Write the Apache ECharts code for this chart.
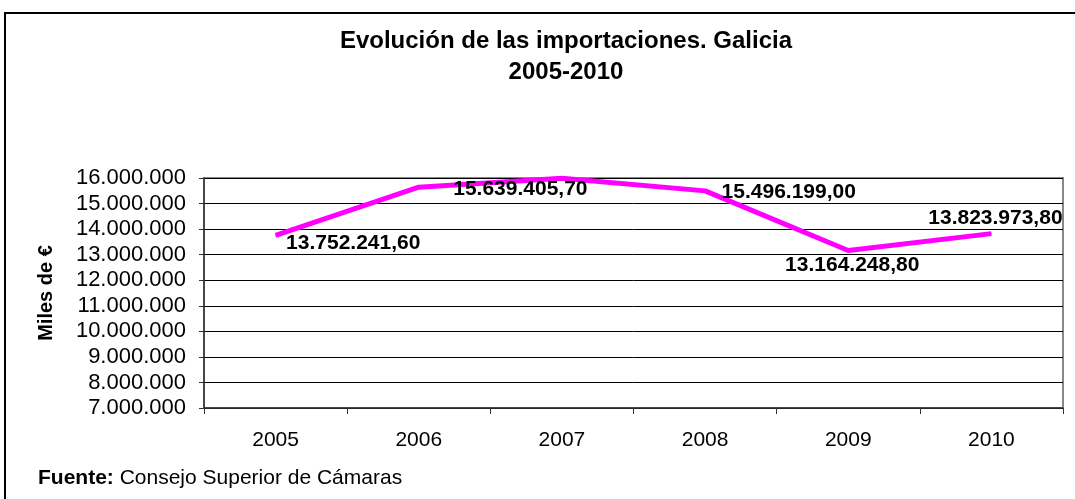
<!DOCTYPE html>
<html>
<head>
<meta charset="utf-8">
<script src="https://cdn.jsdelivr.net/npm/echarts@6/dist/echarts.min.js"></script>
<style>
  html, body { margin: 0; padding: 0; background: #fff; }
  #main { width: 1075px; height: 499px; }
</style>
</head>
<body>
<div id="main"></div>
<script>
// datos
var years = ['2005', '2006', '2007', '2008', '2009', '2010'];
var imports = [13752241.60, 15639405.70, 15990000.00, 15496199.00, 13164248.80, 13823973.80];
// colocación de etiquetas por punto (la de 2007 no aparece)
var labelPos = ['right', 'right', null, 'right', 'bottom', 'top'];

function fmtMiles(v) {
  return String(Math.round(v)).replace(/\B(?=(\d{3})+(?!\d))/g, '.');
}
function fmtDato(v) {
  var p = v.toFixed(2).split('.');
  return fmtMiles(Number(p[0])) + ',' + p[1];
}

var labelCfg = [
  { distance: 10, offset: [0, 8] },
  { distance: 34, offset: [0, 2] },
  { show: false },
  { distance: 16, offset: [0, 1] },
  { distance: 2, offset: [4, 2] },
  { distance: 4, offset: [4, 0] }
];

var seriesData = imports.map(function (v, i) {
  var l = labelCfg[i];
  return {
    value: v,
    label: l.show === false ? { show: false } : {
      show: true,
      position: labelPos[i],
      distance: l.distance,
      offset: l.offset
    }
  };
});

var myChart = echarts.init(document.getElementById('main'));
var option = {
  backgroundColor: '#fff',
  animation: false,
  textStyle: { fontFamily: 'Liberation Sans, Arial, sans-serif' },
  title: {
    text: 'Evolución de las importaciones. Galicia\n2005-2010',
    left: 561,
    textAlign: 'center',
    top: 21,
    textStyle: { fontSize: 24, fontWeight: 'bold', color: '#000', lineHeight: 31 }
  },
  graphic: [
    {
      type: 'rect',
      shape: { x: 5, y: 13, width: 1085, height: 500 },
      style: { fill: 'none', stroke: '#000', lineWidth: 2 },
      silent: true
    },
    {
      type: 'text',
      left: 38,
      top: 468,
      style: {
        rich: {
          b: { fontWeight: 'bold', fontSize: 21, fill: '#000', fontFamily: 'Liberation Sans, Arial' },
          n: { fontSize: 21, fill: '#000', fontFamily: 'Liberation Sans, Arial' }
        },
        text: '{b|Fuente:}{n| Consejo Superior de Cámaras}'
      }
    }
  ],
  grid: {
    left: 204, right: 12, top: 178, bottom: 91,
    show: true, borderColor: '#888', borderWidth: 2
  },
  xAxis: {
    type: 'category',
    data: years,
    boundaryGap: true,
    axisLine: { lineStyle: { color: '#333', width: 1.5 } },
    axisTick: { show: true, length: 6, inside: false, lineStyle: { color: '#333' } },
    axisLabel: { color: '#000', fontSize: 21, margin: 22 }
  },
  yAxis: {
    type: 'value',
    min: 7000000,
    max: 16000000,
    interval: 1000000,
    name: 'Miles de €',
    nameLocation: 'middle',
    nameGap: 148,
    nameRotate: 90,
    nameTextStyle: { fontSize: 20, fontWeight: 'bold', color: '#000' },
    axisLine: { show: true, lineStyle: { color: '#333', width: 1.5 } },
    axisTick: { show: true, length: 5, lineStyle: { color: '#333' } },
    splitLine: { lineStyle: { color: '#000', width: 1 } },
    axisLabel: { color: '#000', fontSize: 22, margin: 18, formatter: fmtMiles }
  },
  series: [{
    type: 'line',
    data: seriesData,
    symbol: 'circle',
    symbolSize: 1,
    showSymbol: true,
    itemStyle: { color: '#FF00FF' },
    lineStyle: { color: '#FF00FF', width: 5 },
    label: {
      color: '#000',
      fontSize: 21,
      fontWeight: 'bold',
      formatter: function (p) { return fmtDato(p.value); }
    }
  }]
};
myChart.setOption(option);
</script>
</body>
</html>
